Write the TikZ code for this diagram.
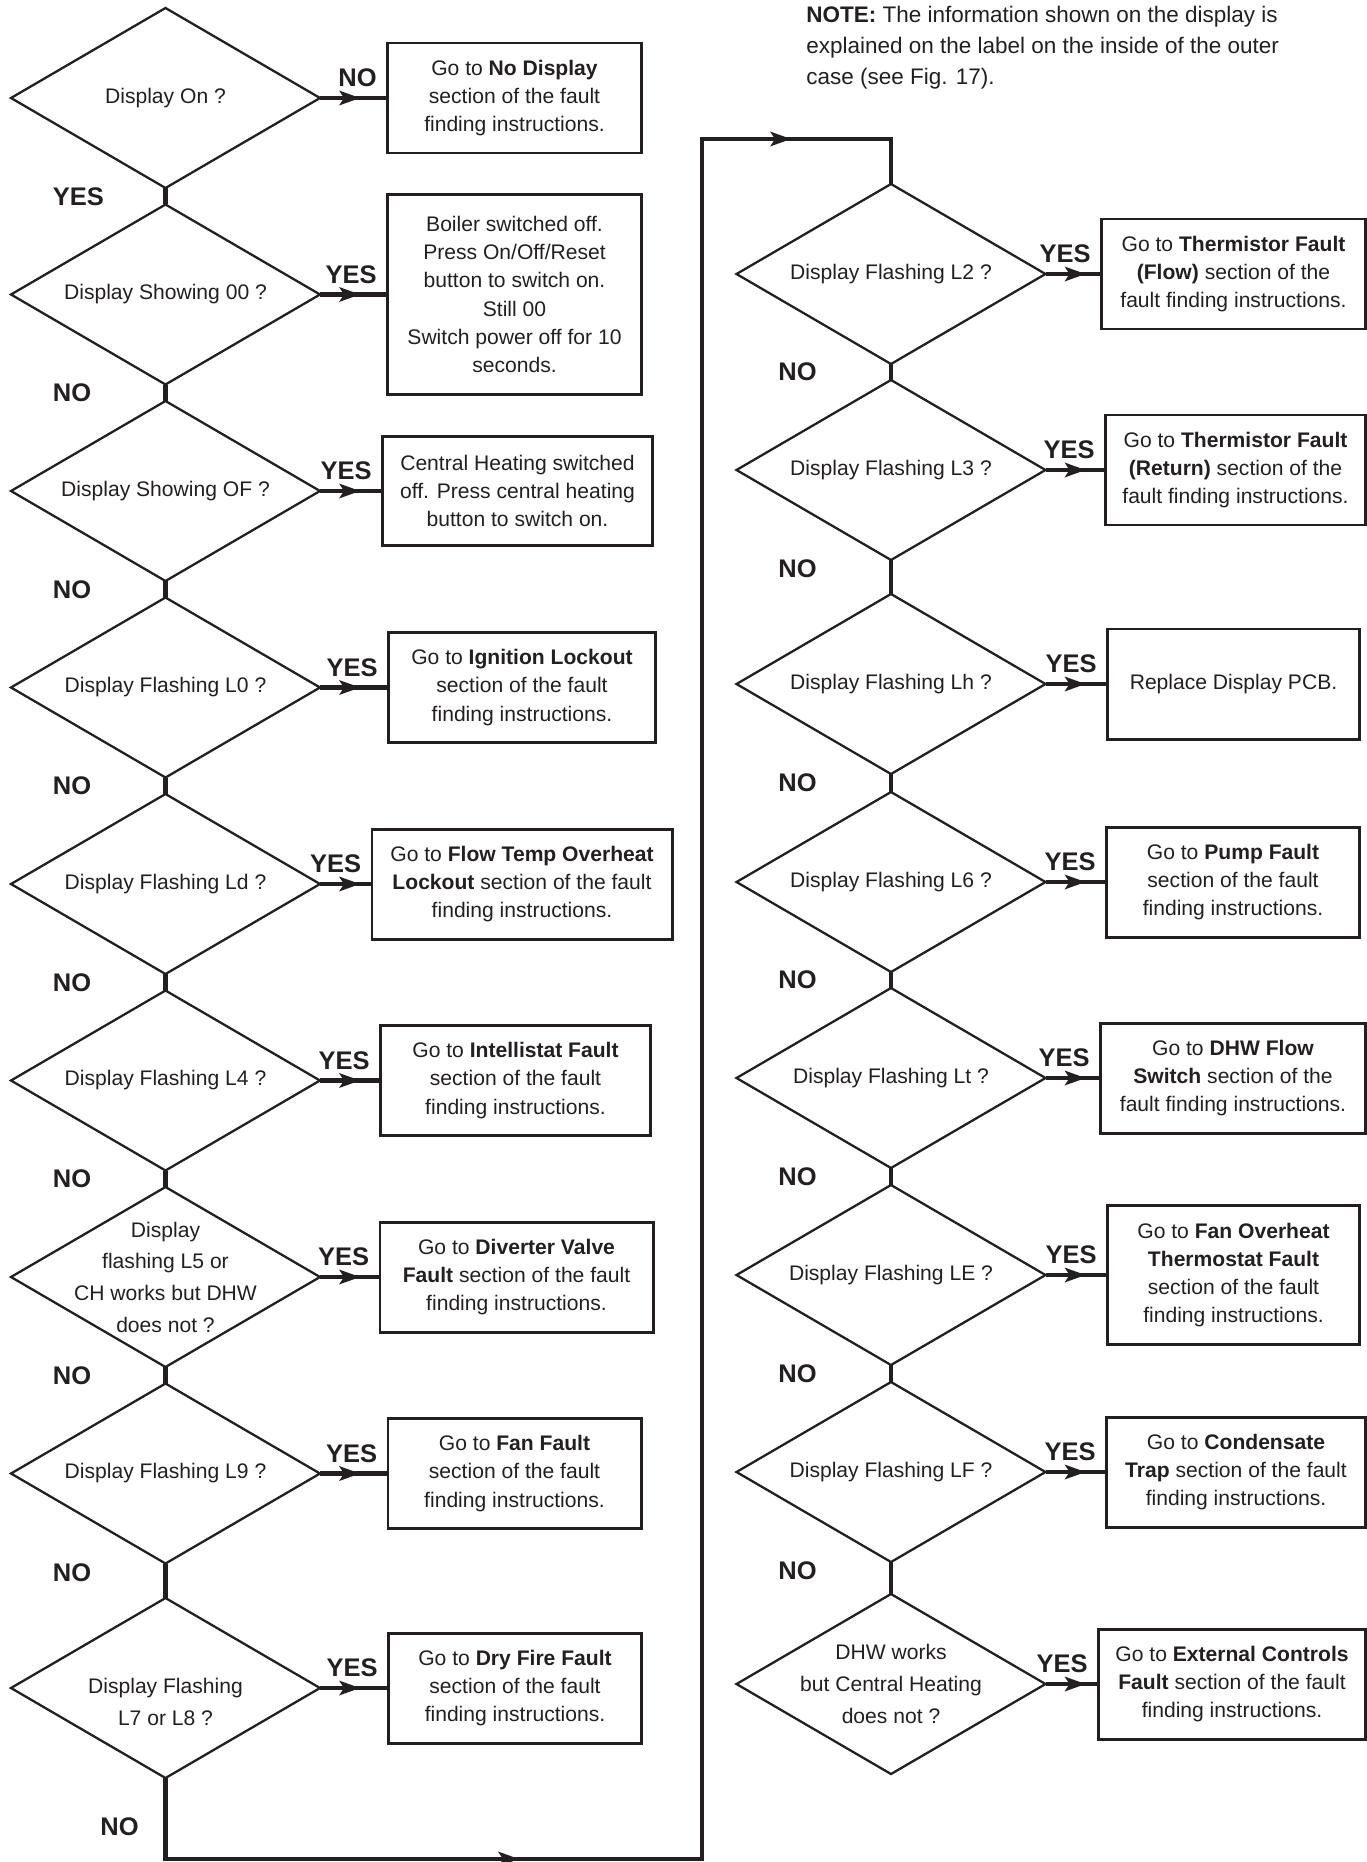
\documentclass[tikz,border=0pt]{standalone}
\usepackage{fontspec}
\setmainfont{Liberation Sans}
\usepackage{tikz}
\usetikzlibrary{positioning,shapes.geometric,arrows.meta,decorations.markings}
\definecolor{ink}{HTML}{231F20}
\tikzset{
  fhead/.tip={Stealth[length=0.42cm, width=0.3cm, inset=0.1cm, line width=0pt]},
  dia/.style={diamond, draw, line width=1.3pt, aspect=1.72, minimum width=6.18cm, minimum height=3.6cm,
              inner xsep=0pt, inner ysep=-0.5cm, outer sep=0pt, align=center, font=\fontsize{12}{18}\selectfont},
  box/.style={draw, line width=1.7pt, minimum height=2.2cm, inner sep=0pt, outer sep=0pt, align=center,
              font=\fontsize{12}{16}\selectfont},
  flow/.style={line width=2.7pt},
  lbl/.style={inner sep=0pt, font=\fontsize{14.5}{14.5}\selectfont\bfseries},
  midtip/.style={postaction={decorate}, decoration={markings, mark=at position #1 with {\arrow{fhead}}}},
  note/.style={inner sep=0pt, align=left, font=\fontsize{12.8}{17.6}\selectfont}
}

\begin{document}
\begin{tikzpicture}[color=ink]
  \useasboundingbox (0,0) rectangle (27.32,-37.24);

  % ---------- note ----------
  \node[note, anchor=north west] (note) at (16.12,-0.12)
        {\textbf{NOTE:} The information shown on the display is\\explained on the label on the inside of the outer\\case (see Fig. 17).};

  % ---------- left column: questions ----------
  \node[dia] (q0) at (3.31,-1.96) {Display On ?};
  \node[dia, below=0.33cm of q0] (q1) {Display Showing 00 ?};
  \node[dia, below=0.33cm of q1] (q2) {Display Showing OF ?};
  \node[dia, below=0.33cm of q2] (q3) {Display Flashing L0 ?};
  \node[dia, below=0.33cm of q3] (q4) {Display Flashing Ld ?};
  \node[dia, below=0.33cm of q4] (q5) {Display Flashing L4 ?};
  \node[dia, below=0.33cm of q5] (q6) {Display\\flashing L5 or\\CH works but DHW\\does not ?};
  \node[dia, below=0.33cm of q6] (q7) {Display Flashing L9 ?};
  \node[dia, below=0.69cm of q7,
        label={[yshift=-0.28cm, align=center, font=\fontsize{12}{18}\selectfont]center:Display Flashing\\L7 or L8 ?}] (q8) {};

  % ---------- left column: answers ----------
  \node[box, right=1.35cm of q0, minimum width=5.08cm] (a0) {Go to \textbf{No Display}\\section of the fault\\finding instructions.};
  \node[box, right=1.35cm of q1, minimum width=5.08cm, minimum height=4.0cm] (a1)
        {Boiler switched off.\\Press On/Off/Reset\\button to switch on.\\Still 00\\Switch power off for 10\\seconds.};
  \node[box, right=1.25cm of q2, minimum width=5.4cm, minimum height=2.18cm] (a2)
        {Central Heating switched\\off. Press central heating\\button to switch on.};
  \node[box, right=1.37cm of q3, minimum width=5.34cm] (a3) {Go to \textbf{Ignition Lockout}\\section of the fault\\finding instructions.};
  \node[box, right=1.04cm of q4, minimum width=6.0cm] (a4) {Go to \textbf{Flow Temp Overheat}\\\textbf{Lockout} section of the fault\\finding instructions.};
  \node[box, right=1.21cm of q5, minimum width=5.4cm] (a5) {Go to \textbf{Intellistat Fault}\\section of the fault\\finding instructions.};
  \node[box, right=1.2cm of q6, minimum width=5.46cm] (a6) {Go to \textbf{Diverter Valve}\\\textbf{Fault} section of the fault\\finding instructions.};
  \node[box, right=1.36cm of q7, minimum width=5.06cm] (a7) {Go to \textbf{Fan Fault}\\section of the fault\\finding instructions.};
  \node[box, right=1.37cm of q8, minimum width=5.06cm] (a8) {Go to \textbf{Dry Fire Fault}\\section of the fault\\finding instructions.};

  % ---------- right column: questions ----------
  \node[dia] (r0) at (17.82,-5.48) {Display Flashing L2 ?};
  \node[dia, below=0.32cm of r0] (r1) {Display Flashing L3 ?};
  \node[dia, below=0.68cm of r1] (r2) {Display Flashing Lh ?};
  \node[dia, below=0.36cm of r2] (r3) {Display Flashing L6 ?};
  \node[dia, below=0.32cm of r3] (r4) {Display Flashing Lt ?};
  \node[dia, below=0.34cm of r4] (r5) {Display Flashing LE ?};
  \node[dia, below=0.34cm of r5] (r6) {Display Flashing LF ?};
  \node[dia, below=0.64cm of r6] (r7) {DHW works\\but Central Heating\\does not ?};

  % ---------- right column: answers ----------
  \node[box, right=1.12cm of r0, minimum width=5.28cm] (b0) {Go to \textbf{Thermistor Fault}\\\textbf{(Flow)} section of the\\fault finding instructions.};
  \node[box, right=1.2cm of r1, minimum width=5.2cm] (b1) {Go to \textbf{Thermistor Fault}\\\textbf{(Return)} section of the\\fault finding instructions.};
  \node[box, right=1.24cm of r2, minimum width=5.04cm] (b2) {Replace Display PCB.};
  \node[box, right=1.22cm of r3, minimum width=5.06cm] (b3) {Go to \textbf{Pump Fault}\\section of the fault\\finding instructions.};
  \node[box, right=1.1cm of r4, minimum width=5.3cm] (b4) {Go to \textbf{DHW Flow}\\\textbf{Switch} section of the\\fault finding instructions.};
  \node[box, right=1.24cm of r5, minimum width=5.04cm, minimum height=2.78cm] (b5)
        {Go to \textbf{Fan Overheat}\\\textbf{Thermostat Fault}\\section of the fault\\finding instructions.};
  \node[box, right=1.22cm of r6, minimum width=5.18cm] (b6) {Go to \textbf{Condensate}\\\textbf{Trap} section of the fault\\finding instructions.};
  \node[box, right=1.06cm of r7, minimum width=5.34cm] (b7) {Go to \textbf{External Controls}\\\textbf{Fault} section of the fault\\finding instructions.};

  % ---------- down the left column ----------
  \draw[flow] (q0.south) -- node[lbl, anchor=west, xshift=-2.3cm] {YES} (q1.north);
  \draw[flow] (q1.south) -- node[lbl, anchor=west, xshift=-2.3cm] {NO} (q2.north);
  \draw[flow] (q2.south) -- node[lbl, anchor=west, xshift=-2.3cm] {NO} (q3.north);
  \draw[flow] (q3.south) -- node[lbl, anchor=west, xshift=-2.3cm] {NO} (q4.north);
  \draw[flow] (q4.south) -- node[lbl, anchor=west, xshift=-2.3cm] {NO} (q5.north);
  \draw[flow] (q5.south) -- node[lbl, anchor=west, xshift=-2.3cm] {NO} (q6.north);
  \draw[flow] (q6.south) -- node[lbl, anchor=west, xshift=-2.3cm] {NO} (q7.north);
  \draw[flow] (q7.south) -- node[lbl, pos=0.27, anchor=west, xshift=-2.3cm] {NO} (q8.north);

  % ---------- down the right column ----------
  \draw[flow] (r0.south) -- node[lbl, anchor=west, xshift=-2.3cm] {NO} (r1.north);
  \draw[flow] (r1.south) -- node[lbl, pos=0.27, anchor=west, xshift=-2.3cm] {NO} (r2.north);
  \draw[flow] (r2.south) -- node[lbl, anchor=west, xshift=-2.3cm] {NO} (r3.north);
  \draw[flow] (r3.south) -- node[lbl, anchor=west, xshift=-2.3cm] {NO} (r4.north);
  \draw[flow] (r4.south) -- node[lbl, anchor=west, xshift=-2.3cm] {NO} (r5.north);
  \draw[flow] (r5.south) -- node[lbl, anchor=west, xshift=-2.3cm] {NO} (r6.north);
  \draw[flow] (r6.south) -- node[lbl, pos=0.27, anchor=west, xshift=-2.3cm] {NO} (r7.north);

  % ---------- question -> answer ----------
  \draw[flow, midtip=0.8cm] (q0.east) -- node[lbl, pos=1, above left=0.24cm] {NO} (a0.west);
  \draw[flow, midtip=0.8cm] (q1.east) -- node[lbl, pos=1, above left=0.24cm] {YES} (a1.west);
  \draw[flow, midtip=0.8cm] (q2.east) -- node[lbl, pos=1, above left=0.24cm] {YES} (a2.west);
  \draw[flow, midtip=0.8cm] (q3.east) -- node[lbl, pos=1, above left=0.24cm] {YES} (a3.west);
  \draw[flow, midtip=0.8cm] (q4.east) -- node[lbl, pos=1, above left=0.24cm] {YES} (a4.west);
  \draw[flow, midtip=0.8cm] (q5.east) -- node[lbl, pos=1, above left=0.24cm] {YES} (a5.west);
  \draw[flow, midtip=0.8cm] (q6.east) -- node[lbl, pos=1, above left=0.24cm] {YES} (a6.west);
  \draw[flow, midtip=0.8cm] (q7.east) -- node[lbl, pos=1, above left=0.24cm] {YES} (a7.west);
  \draw[flow, midtip=0.8cm] (q8.east) -- node[lbl, pos=1, above left=0.24cm] {YES} (a8.west);
  \draw[flow, midtip=0.8cm] (r0.east) -- node[lbl, pos=1, above left=0.24cm] {YES} (b0.west);
  \draw[flow, midtip=0.8cm] (r1.east) -- node[lbl, pos=1, above left=0.24cm] {YES} (b1.west);
  \draw[flow, midtip=0.8cm] (r2.east) -- node[lbl, pos=1, above left=0.24cm] {YES} (b2.west);
  \draw[flow, midtip=0.8cm] (r3.east) -- node[lbl, pos=1, above left=0.24cm] {YES} (b3.west);
  \draw[flow, midtip=0.8cm] (r4.east) -- node[lbl, pos=1, above left=0.24cm] {YES} (b4.west);
  \draw[flow, midtip=0.8cm] (r5.east) -- node[lbl, pos=1, above left=0.24cm] {YES} (b5.west);
  \draw[flow, midtip=0.8cm] (r6.east) -- node[lbl, pos=1, above left=0.24cm] {YES} (b6.west);
  \draw[flow, midtip=0.8cm] (r7.east) -- node[lbl, pos=1, above left=0.24cm] {YES} (b7.west);

  % ---------- last NO: along the bottom, up the middle, into the right column ----------
  \coordinate (lowlane) at (14.04,-37.18);
  \coordinate (toplane) at (14.04,-2.78);
  \draw[flow, postaction={decorate}, decoration={markings,
          mark=at position 8.69cm with {\arrow{fhead}},
          mark=at position 48.53cm with {\arrow{fhead}}}]
    (q8.south) |- node[lbl, pos=0.3, left=0.49cm] {NO} (lowlane) -- (toplane) -| (r0.north);

\end{tikzpicture}
\end{document}
